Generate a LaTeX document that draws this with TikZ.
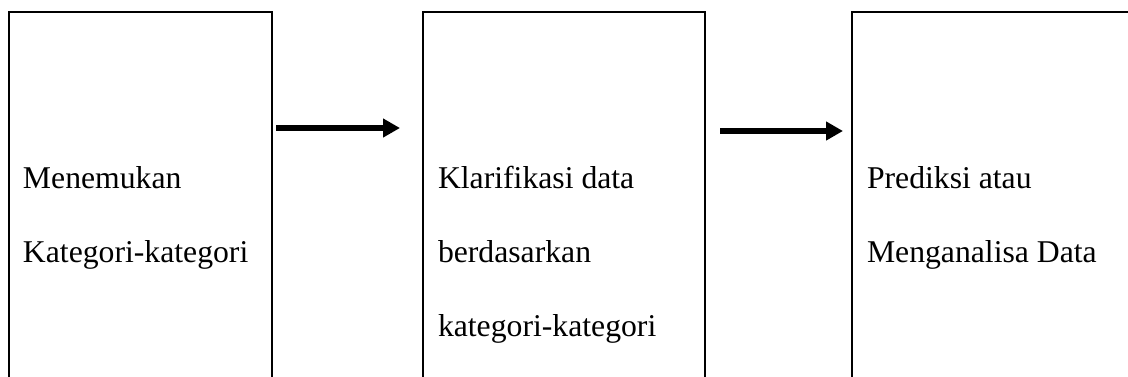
\documentclass[tikz,border=0pt]{standalone}
\usepackage{fontspec}
\setmainfont{Liberation Serif}
\usetikzlibrary{arrows.meta}
\tikzset{
  stagebox/.style={draw=black, line width=2pt, rectangle, inner sep=0pt, outer sep=0pt, anchor=north west, minimum height=420pt},
  lbl/.style={anchor=base west, inner sep=0pt, outer sep=0pt, text=black, font=\fontsize{31.7}{38}\selectfont},
  flowarrow/.style={line width=6pt, -{Triangle[length=17pt,width=18pt]}}
}
\begin{document}
\begin{tikzpicture}[x=1pt,y=-1pt]
\useasboundingbox (0,0) rectangle (1128,376);
\clip (0,0) rectangle (1128,376);
\fill[white] (0,0) rectangle (1128,376);
% boxes
\node[stagebox, minimum width=263pt] (b1) at (9,12) {};
\node[stagebox, minimum width=282pt] (b2) at (423,12) {};
\node[stagebox, minimum width=300pt] (b3) at (852,12) {};
% texts
\node[lbl] (t11) at (23,188) {Menemukan};
\node[lbl] (t12) at (23,262) {Kategori-kategori};
\node[lbl] (t21) at (438,188) {Klarifikasi data};
\node[lbl] (t22) at (438,262) {berdasarkan};
\node[lbl] (t23) at (438,336) {kategori-kategori};
\node[lbl] (t31) at (867,188) {Prediksi atau};
\node[lbl] (t32) at (867,262) {Menganalisa Data};
% arrows
\coordinate (a1s) at (276,128);
\coordinate (a1e) at (400,128);
\coordinate (a2s) at (720,131);
\coordinate (a2e) at (843,131);
\draw[flowarrow] (a1s) -- (a1e);
\draw[flowarrow] (a2s) -- (a2e);
\end{tikzpicture}
\end{document}
